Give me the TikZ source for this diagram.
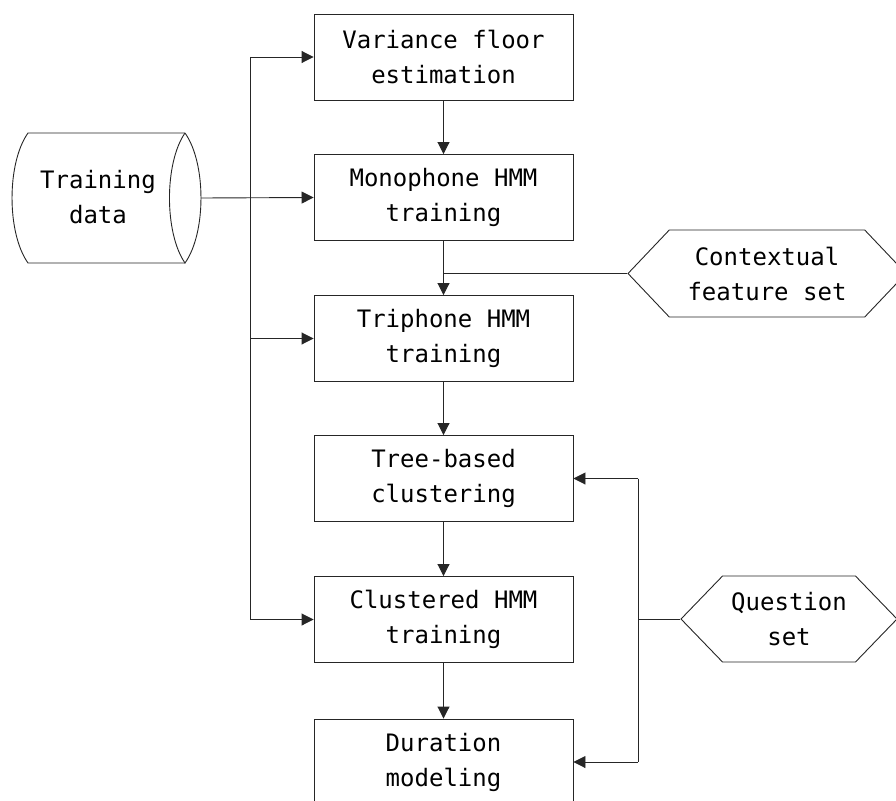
\documentclass[tikz,border=0pt]{standalone}
\usepackage{fontspec}
\setmonofont{DejaVu Sans Mono}
\usetikzlibrary{arrows.meta,shapes.symbols}
\begin{document}
\begin{tikzpicture}[x=1pt,y=-1pt,
  every node/.style={font=\ttfamily\fontsize{24}{35}\selectfont, align=center},
  line/.style={line width=0.9pt, draw=black!85},
  arr/.style={line, -{Triangle[length=12pt,width=12pt]}},
  stepbox/.style={line, rectangle, minimum width=259pt, minimum height=86pt, inner sep=0pt},
  hexa/.style={line, shape=signal, signal to=west and east, inner sep=0pt}
]
\useasboundingbox (0,0) rectangle (896,800);
% training data cylinder
\draw[line] (185,133) -- (28,133) .. controls (6.7,163) and (6.7,233) .. (28,263) -- (185,263);
\draw[line] (185,133) .. controls (206.3,163) and (206.3,233) .. (185,263)
                      .. controls (164.3,233) and (164.3,163) .. (185,133);
\node (td) at (98,197) {Training\\data};
\coordinate (tdE) at (201,198);
% process boxes
\node[stepbox] (b1) at (443.5,57) {Variance floor\\estimation};
\node[stepbox] (b2) at (443.5,197.5) {Monophone HMM\\training};
\node[stepbox] (b3) at (443.5,338.5) {Triphone HMM\\training};
\node[stepbox] (b4) at (443.5,478.5) {Tree-based\\clustering};
\node[stepbox] (b5) at (443.5,619.5) {Clustered HMM\\training};
\node[stepbox] (b6) at (443.5,762) {Duration\\modeling};
% hexagons
\node[hexa, minimum width=278pt, minimum height=87pt, signal pointer angle=93] (ctx) at (767,273.5) {Contextual\\feature set};
\node[hexa, minimum width=216pt, minimum height=86pt, signal pointer angle=92] (qs) at (789,619) {Question\\set};
% main chain
\draw[arr] (b1) -- (b2);
\draw[arr] (b2) -- (b3);
\draw[arr] (b3) -- (b4);
\draw[arr] (b4) -- (b5);
\draw[arr] (b5) -- (b6);
% left bus
\coordinate (bus) at (250,0);
\draw[arr] (tdE) -- (b2.west);
\draw[line] (b1.west -| bus) -- (b5.west -| bus);
\foreach \b in {b1,b3,b5} \draw[arr] (\b.west -| bus) -- (\b.west);
% contextual feature set
\draw[line] (ctx.west) -- (ctx.west -| b2.south);
% question set bus
\coordinate (qbus) at (638,0);
\draw[line] (qs.west) -- (qs.west -| qbus);
\draw[line] (b4.east -| qbus) -- (b6.east -| qbus);
\foreach \b in {b4,b6} \draw[arr] (\b.east -| qbus) -- (\b.east);
\end{tikzpicture}
\end{document}
